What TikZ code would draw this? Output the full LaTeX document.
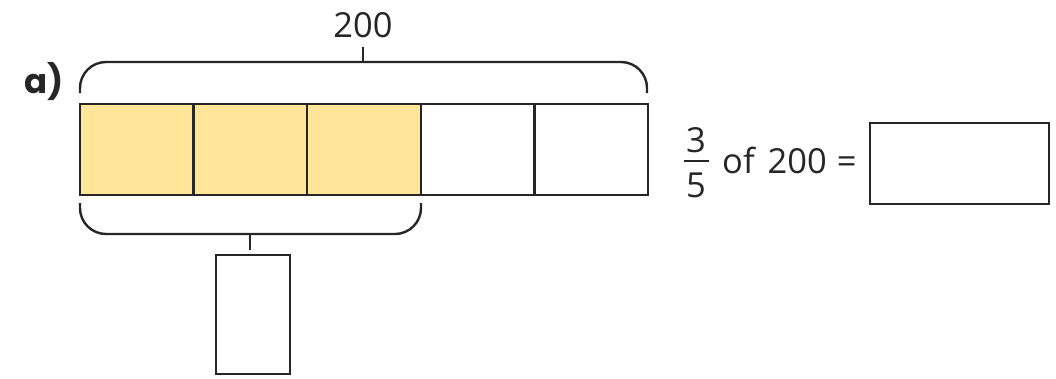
\documentclass[tikz,border=0pt]{standalone}
\usepackage{fontspec}
\setmainfont{Open Sans}
\newfontfamily\partfont{Poppins}
\definecolor{inkgray}{HTML}{262626}
\definecolor{barfill}{HTML}{FFE597}
\begin{document}
\begin{tikzpicture}[x=1pt,y=-1pt,
  ink/.style={draw=inkgray,line width=2.4pt},
  cell/.style={ink,minimum width=113.6pt,minimum height=91pt,inner sep=0pt,outer sep=0pt,anchor=north west},
  shaded/.style={cell,fill=barfill},
  brace/.style={ink,rounded corners=26pt},
  answer/.style={ink,inner sep=0pt,outer sep=0pt,anchor=north west},
  txt/.style={font=\fontsize{34.5}{40}\selectfont,text=inkgray,inner sep=0pt}]
\useasboundingbox (0,0) rectangle (1056,378);

% question label
\node[txt,anchor=base west,font=\partfont\bfseries\fontsize{34}{40}\selectfont] (qlabel) at (24,93) {a)};

% bar model: five equal parts, three shaded
\node[shaded] (c1) at (80,104) {};
\node[shaded] (c2) at (c1.north east) {};
\node[shaded] (c3) at (c2.north east) {};
\node[cell]   (c4) at (c3.north east) {};
\node[cell]   (c5) at (c4.north east) {};

% brace over the whole bar
\coordinate (topL) at (80,93);
\coordinate (topR) at (647,93);
\draw[brace] (topL) -- (80,62) -| (topR);
\coordinate (topTick) at (363,62);
\coordinate (topTickEnd) at (363,47);
\draw[ink] (topTick) -- (topTickEnd);
\node[txt,anchor=base] (whole) at (363,37) {200};

% brace under the shaded parts
\coordinate (botL) at (80,203);
\coordinate (botR) at (421,203);
\draw[brace] (botL) -- (80,234) -| (botR);
\coordinate (botTick) at (250,234);
\coordinate (botTickEnd) at (250,250);
\draw[ink] (botTick) -- (botTickEnd);
\node[answer,minimum width=74pt,minimum height=119pt] (part) at (216,255) {};

% number sentence
\node[txt,anchor=base] (num) at (696,152) {3};
\node[txt,anchor=base] (den) at (696,197) {5};
\coordinate (barL) at (684,161);
\coordinate (barR) at (709,161);
\draw[ink] (barL) -- (barR);
\node[txt,anchor=base west] (sentence) at (722,173) {of\kern4pt\ 200\kern1pt\ =};
\node[answer,minimum width=179pt,minimum height=81pt] (result) at (870,123) {};
\end{tikzpicture}
\end{document}
